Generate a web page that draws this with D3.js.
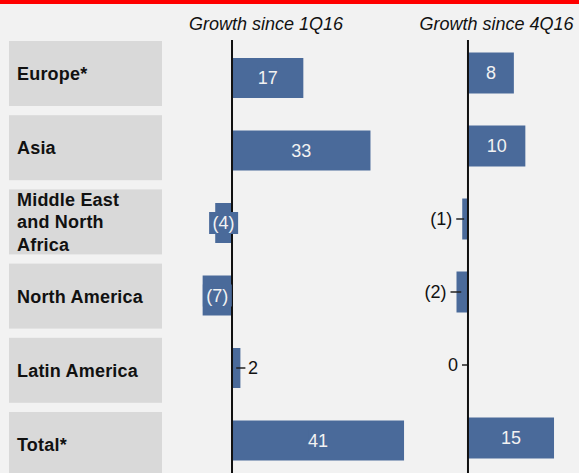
<!DOCTYPE html>
<html>
<head>
<meta charset="utf-8">
<script src="https://cdn.jsdelivr.net/npm/d3@7"></script>
<style>
  html, body { margin: 0; padding: 0; background: #f2f2f2; }
  svg { display: block; font-family: "Liberation Sans", Arial, sans-serif; }
</style>
</head>
<body>
<svg id="chart" width="579" height="473"></svg>
<script>
// Regions and their growth figures
const regions = ["Europe*", "Asia", "Middle East and North Africa", "North America", "Latin America", "Total*"];
const regionLines = [["Europe*"], ["Asia"], ["Middle East", "and North", "Africa"], ["North America"], ["Latin America"], ["Total*"]];
const growthSince1Q16 = [17, 33, -4, -7, 2, 41];
const growthSince4Q16 = [8, 10, -1, -2, 0, 15];
const panelTitles = ["Growth since 1Q16", "Growth since 4Q16"];

const W = 579, H = 473;
const barColor = "#4a6a9a";
const svg = d3.select("#chart");

svg.append("rect").attr("width", W).attr("height", H).attr("fill", "#f2f2f2");
svg.append("rect").attr("width", W).attr("height", 4).attr("fill", "#ff0000");

// Row label boxes
const yBox = d3.scalePoint().domain(regions).range([73.5, 444.5]);
const boxH = 65, fs = 18, lh = 22.5;
const rows = svg.append("g").selectAll("g").data(regions).join("g");
rows.append("rect")
  .attr("x", 9).attr("width", 153)
  .attr("y", d => yBox(d) - boxH / 2).attr("height", boxH)
  .attr("fill", "#d9d9d9");
rows.each(function (d, i) {
  const lines = regionLines[i];
  const first = yBox(d) + fs * 0.36 - (lines.length - 1) * lh / 2;
  d3.select(this).selectAll("text").data(lines).join("text")
    .attr("x", 17)
    .attr("y", (l, j) => first + j * lh)
    .attr("font-size", fs).attr("font-weight", "bold")
    .attr("letter-spacing", 0.2)
    .attr("fill", "#111")
    .text(l => l);
});

function fmt(v) { return v < 0 ? "(" + Math.abs(v) + ")" : String(v); }

function panel(values, x, yCenters, barH, title, titleX, bgLabels) {
  const g = svg.append("g");
  const y = d3.scalePoint().domain(regions).range(yCenters);
  const x0 = x(0);

  g.append("text")
    .attr("x", titleX).attr("y", 30)
    .attr("text-anchor", "middle")
    .attr("font-size", 18).attr("font-style", "italic")
    .attr("fill", "#111")
    .text(title);

  const data = regions.map((r, i) => ({ r, v: values[i] }));
  g.selectAll("rect.bar").data(data).join("rect")
    .attr("class", "bar")
    .attr("x", d => Math.min(x(d.v), x0))
    .attr("width", d => Math.abs(x(d.v) - x0))
    .attr("y", d => y(d.r) - barH / 2)
    .attr("height", barH)
    .attr("fill", barColor);

  // zero line
  g.append("line")
    .attr("x1", x0).attr("x2", x0)
    .attr("y1", 40).attr("y2", H)
    .attr("stroke", "#111").attr("stroke-width", 2);

  data.forEach(d => {
    const w = Math.abs(x(d.v) - x0);
    const cy = y(d.r);
    if (w >= 14) {
      const cx = (x(d.v) + x0) / 2;
      if (bgLabels) {
        // label plate so short bars still read clearly
        const tw = fmt(d.v).length * 0.5 * 18 + 2;
        g.append("rect")
          .attr("x", cx - tw / 2).attr("width", tw)
          .attr("y", cy - 11).attr("height", 22)
          .attr("fill", barColor);
      }
      g.append("text")
        .attr("x", cx).attr("y", cy + 18 * 0.36)
        .attr("text-anchor", "middle")
        .attr("font-size", 18).attr("fill", "#f2f2f2")
        .text(fmt(d.v));
    } else if (d.v > 0) {
      const bc = (x(d.v) + x0) / 2;
      const end = x(d.v) + 5;
      g.append("line").attr("x1", bc).attr("x2", end)
        .attr("y1", cy).attr("y2", cy)
        .attr("stroke", "#222").attr("stroke-width", 1.5);
      g.append("text")
        .attr("x", end + 2.5).attr("y", cy + 18 * 0.36)
        .attr("font-size", 18).attr("fill", "#111")
        .text(fmt(d.v));
    } else {
      const bc = (x(d.v) + x0) / 2 - 1;
      const start = x(d.v) - 6;
      g.append("line").attr("x1", start).attr("x2", bc)
        .attr("y1", cy).attr("y2", cy)
        .attr("stroke", "#222").attr("stroke-width", 1.5);
      g.append("text")
        .attr("x", start - 4).attr("y", cy + 18 * 0.36)
        .attr("text-anchor", "end")
        .attr("font-size", 18).attr("fill", "#111")
        .text(fmt(d.v));
    }
  });
}

const x1 = d3.scaleLinear().domain([-10, 50]).range([190.05, 441.8]);
const x2 = d3.scaleLinear().domain([-5, 20]).range([439.3, 582.7]);

panel(growthSince1Q16, x1, [78, 440.5], 40, panelTitles[0], 266, true);
panel(growthSince4Q16, x2, [73, 438], 41, panelTitles[1], 496.5, false);
</script>
</body>
</html>
